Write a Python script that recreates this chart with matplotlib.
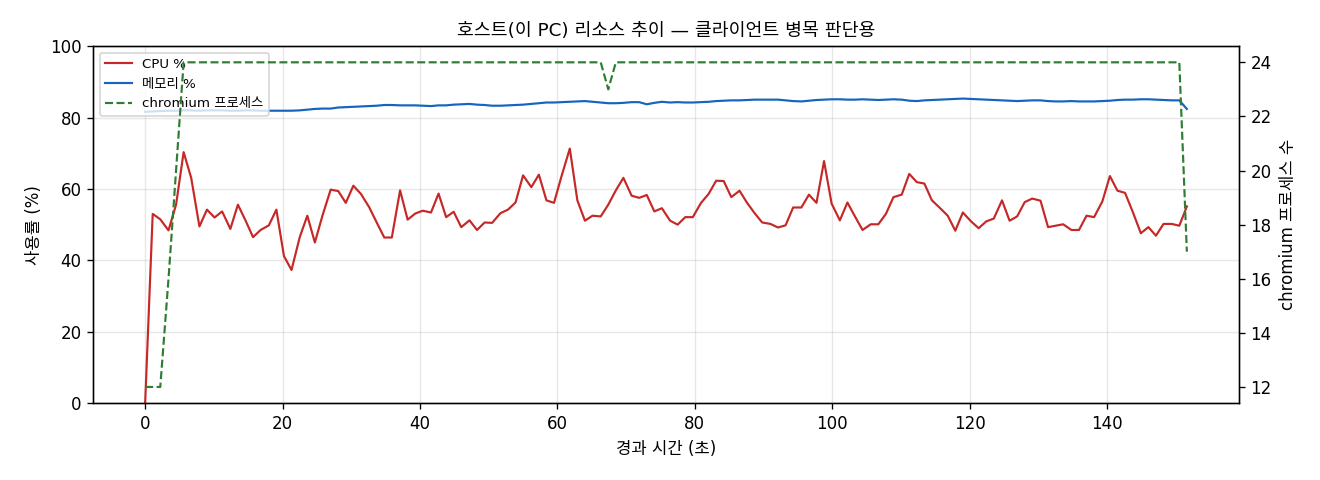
import matplotlib
matplotlib.use("Agg")
import matplotlib.pyplot as plt

plt.rcParams['font.family'] = ['DejaVu Sans', 'Noto Sans CJK KR']
plt.rcParams['axes.unicode_minus'] = False

# 경과 시간 (초)
t = [0.0, 1.1, 2.2, 3.4, 4.5, 5.6, 6.7, 7.9, 9.0, 10.1,
     11.2, 12.4, 13.5, 14.6, 15.7, 16.8, 18.0, 19.1, 20.2, 21.3,
     22.5, 23.6, 24.7, 25.8, 27.0, 28.1, 29.2, 30.3, 31.4, 32.6,
     33.7, 34.8, 35.9, 37.1, 38.2, 39.3, 40.4, 41.6, 42.7, 43.8,
     44.9, 46.0, 47.2, 48.3, 49.4, 50.5, 51.7, 52.8, 53.9, 55.0,
     56.2, 57.3, 58.4, 59.5, 60.6, 61.8, 62.9, 64.0, 65.1, 66.3,
     67.4, 68.5, 69.6, 70.8, 71.9, 73.0, 74.1, 75.2, 76.4, 77.5,
     78.6, 79.7, 80.9, 82.0, 83.1, 84.2, 85.3, 86.5, 87.6, 88.7,
     89.8, 91.0, 92.1, 93.2, 94.3, 95.5, 96.6, 97.7, 98.8, 99.9,
     101.1, 102.2, 103.3, 104.4, 105.6, 106.7, 107.8, 108.9, 110.1, 111.2,
     112.3, 113.4, 114.5, 115.7, 116.8, 117.9, 119.0, 120.2, 121.3, 122.4,
     123.5, 124.7, 125.8, 126.9, 128.0, 129.1, 130.3, 131.4, 132.5, 133.6,
     134.8, 135.9, 137.0, 138.1, 139.3, 140.4, 141.5, 142.6, 143.7, 144.9,
     146.0, 147.1, 148.2, 149.4, 150.5, 151.6]

cpu = [0, 53.0, 51.5, 48.4, 55.6, 70.3, 63.1, 49.5, 54.2, 52.0,
       53.7, 48.8, 55.6, 51.2, 46.5, 48.5, 49.8, 54.2, 41.2, 37.3,
       46.5, 52.5, 45.0, 52.5, 59.8, 59.4, 56.1, 60.9, 58.6, 54.9,
       50.6, 46.4, 46.4, 59.6, 51.4, 53.1, 53.9, 53.4, 58.7, 52.1,
       53.6, 49.3, 51.2, 48.5, 50.6, 50.5, 53.2, 54.2, 56.2, 63.8,
       60.5, 64.0, 56.8, 56.1, 63.6, 71.3, 56.8, 51.1, 52.5, 52.3,
       55.6, 59.6, 63.1, 58.1, 57.5, 58.3, 53.7, 54.6, 51.1, 50.0,
       52.1, 52.1, 56.1, 58.6, 62.3, 62.2, 57.7, 59.5, 56.1, 53.2,
       50.6, 50.2, 49.2, 49.8, 54.8, 54.8, 58.4, 56.1, 67.8, 55.9,
       51.2, 56.2, 52.3, 48.5, 50.1, 50.1, 53.0, 57.7, 58.4, 64.2,
       61.9, 61.5, 56.8, 54.6, 52.5, 48.3, 53.4, 50.9, 49.0, 50.9,
       51.7, 56.8, 51.1, 52.3, 56.3, 57.3, 56.7, 49.3, 49.7, 50.1,
       48.5, 48.5, 52.5, 52.1, 56.5, 63.6, 59.5, 58.9, 53.7, 47.6,
       49.3, 46.9, 50.2, 50.2, 49.7, 55.1]

mem = [81.6, 81.7, 81.8, 81.9, 81.9, 82.0, 82.0, 81.9, 82.0, 82.0,
       82.0, 81.9, 81.9, 82.0, 82.0, 81.9, 81.9, 81.9, 81.9, 81.9,
       82.0, 82.2, 82.4, 82.5, 82.5, 82.8, 82.9, 83.0, 83.1, 83.2,
       83.3, 83.5, 83.5, 83.4, 83.4, 83.4, 83.3, 83.2, 83.4, 83.4,
       83.6, 83.7, 83.8, 83.6, 83.5, 83.3, 83.3, 83.4, 83.5, 83.6,
       83.8, 84.0, 84.2, 84.2, 84.3, 84.4, 84.5, 84.6, 84.4, 84.2,
       84.0, 84.0, 84.1, 84.3, 84.3, 83.7, 84.1, 84.4, 84.2, 84.3,
       84.2, 84.2, 84.3, 84.4, 84.6, 84.7, 84.8, 84.8, 84.9, 85.0,
       85.0, 85.0, 85.0, 84.8, 84.6, 84.5, 84.7, 84.9, 85.0, 85.1,
       85.1, 85.0, 85.0, 85.1, 85.0, 84.9, 85.0, 85.1, 85.0, 84.7,
       84.6, 84.8, 84.9, 85.0, 85.1, 85.2, 85.3, 85.2, 85.1, 85.0,
       84.9, 84.8, 84.7, 84.6, 84.7, 84.8, 84.8, 84.6, 84.5, 84.5,
       84.6, 84.5, 84.5, 84.5, 84.6, 84.7, 84.9, 85.0, 85.0, 85.1,
       85.1, 85.0, 84.9, 84.8, 84.8, 82.4]

chromium = [12, 12, 12, 16, 20] + [24] * 55 + [23] + [24] * 74 + [17]

fig, ax = plt.subplots(figsize=(11, 4), dpi=120)
fig.subplots_adjust(left=0.0705, right=0.9386, top=0.904, bottom=0.160)

l1, = ax.plot(t, cpu, color="#c62828", lw=1.3, label="CPU %")
l2, = ax.plot(t, mem, color="#1565c0", lw=1.3, label="메모리 %")
ax.set_ylim(0, 100)
ax.set_xlabel("경과 시간 (초)")
ax.set_ylabel("사용률 (%)")
ax.grid(True, alpha=0.3)

ax2 = ax.twinx()
l3, = ax2.plot(t, chromium, color="#2e7d32", lw=1.3, ls="--", label="chromium 프로세스")
ax2.set_ylabel("chromium 프로세스 수")

ax.legend(handles=[l1, l2, l3], loc="upper left", fontsize=8)
ax.set_title("호스트(이 PC) 리소스 추이 — 클라이언트 병목 판단용", fontsize=11)

fig.savefig("out.png", dpi=120)
